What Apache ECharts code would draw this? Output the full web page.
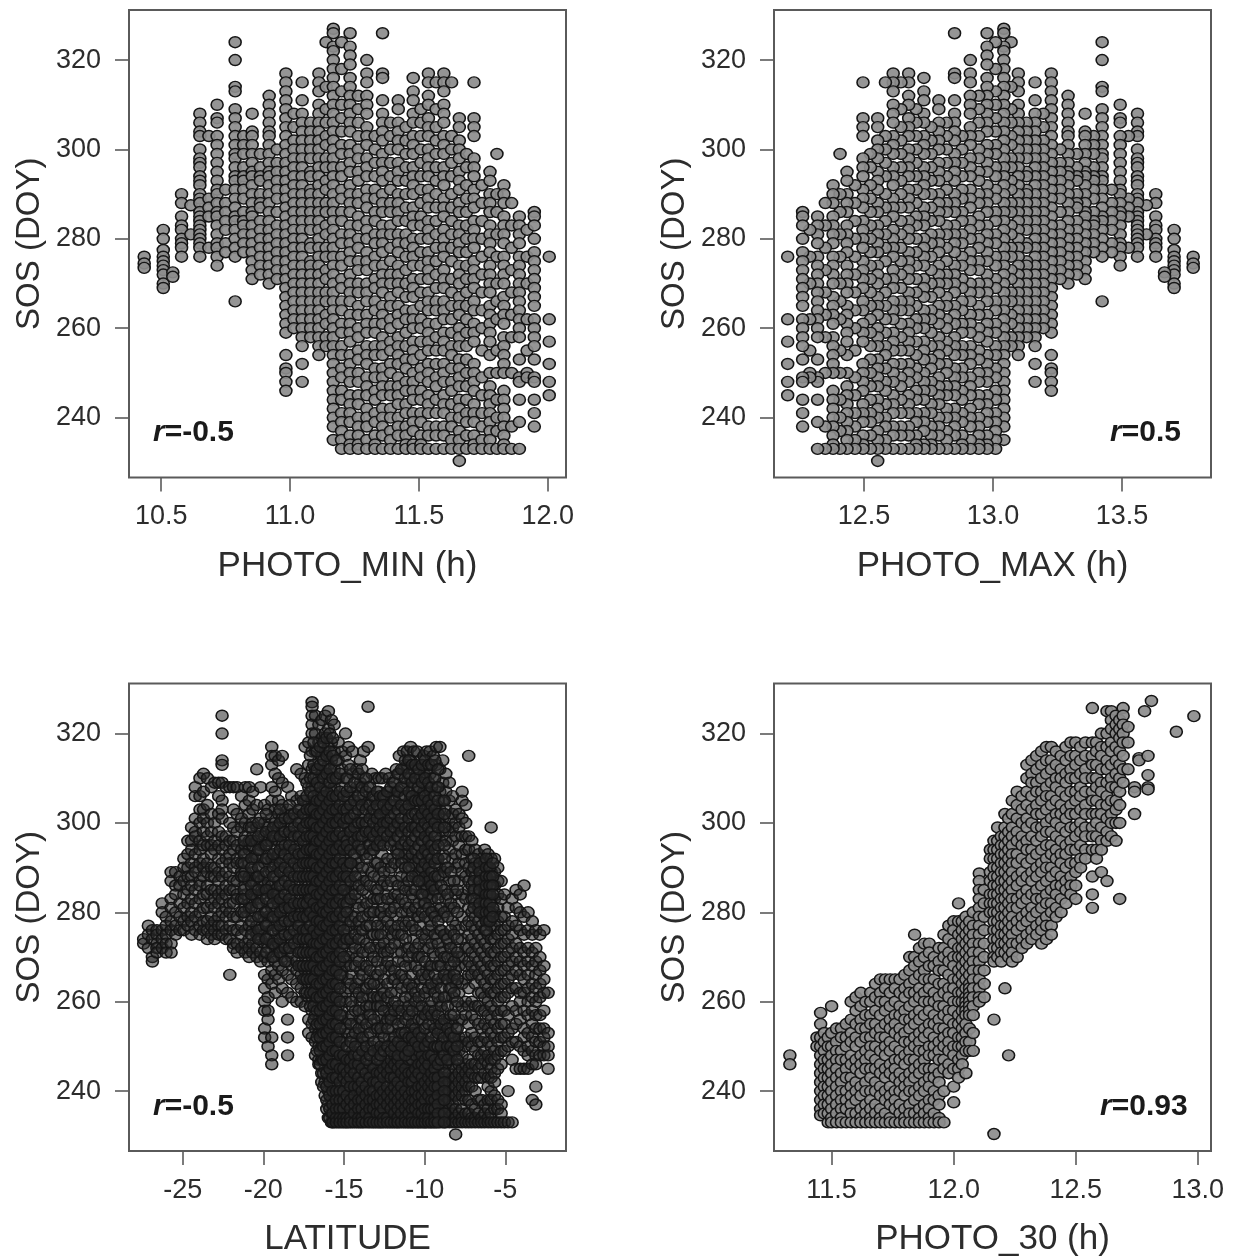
<!DOCTYPE html>
<html><head><meta charset="utf-8">
<style>html,body{margin:0;background:#fff}#c{width:1239px;height:1259px;filter:blur(0.45px)}</style>
<script src="https://cdn.jsdelivr.net/npm/echarts@6/dist/echarts.min.js"></script></head>
<body><div id="c"></div>
<script>
// each row: PHOTO_MIN, PHOTO_MAX, then the SOS values seen in that photoperiod column
const photoColumns=[
[10.434,13.776,276,274.5,273.5],
[10.508,13.702,282,280,277.5,276,275,274,273,272,270,269],
[10.545,13.665,272.5,271.5],
[10.579,13.631,290,288,285,283,282,280,279,278,276],
[10.615,13.595,287.5,281],
[10.65,13.56,308,306,304,303,300,298,297,296,294,293,292,290,289,288,286,285,284,283,282,281,280,279,278,276],
[10.685,13.525,303,289,287,285,278],
[10.717,13.493,310,307,306,303,301,299,297,295,293,291,290,288,286,285,283,281,279,278,276,274],
[10.75,13.46,291,288,286,284,282,279,277],
[10.787,13.423,324,320,314,313,309,307,305,303,301,299,298,296,294,293,291,289,287,285,284,282,280,278,276,266],
[10.82,13.39,303,301,299,296,294,293,291,289,286,284,283,281,279,277],
[10.853,13.357,308,304,303,301,299,297,295,294,292,290,288,286,285,283,281,279,277,275,273,271],
[10.885,13.325,299,296,294,293,290,288,287,284,282,280,278,276,274,272],
[10.919,13.291,312,310,308,306,304,303,301,299,297,295,294,292,290,288,286,284,282,280,278,276,274,272,270],
[10.95,13.26,300,297,295,293,291,289,286,283,281,279,277,275,273,271],
[10.984,13.226,317,315,313,311,309,307,305,303,301,299,297,295,293,291,289,287,285,283,281,279,277,275,273,271,269,267,265,263,261,259,254,251,250,248,246],
[11.015,13.195,308,305,302,300,298,296,294,292,290,288,286,284,282,280,278,276,274,272,270,268,266,264,262,260],
[11.047,13.163,315,311,308,306,304,302,300,298,296,294,292,290,288,286,284,282,280,278,276,274,272,270,268,266,264,262,260,258,256,252,248],
[11.08,13.13,306,304,302,300,298,295,294,291,290,288,286,284,282,279,278,275,274,272,270,268,266,264,262,260,258],
[11.112,13.098,317,315,313,310,308,306,304,302,300,298,296,294,292,290,288,286,284,282,280,278,276,274,272,270,268,266,264,262,260,258,256,254],
[11.14,13.07,324,314,309,306,303,301,298,296,293,291,288,286,283,281,278,276,273,271,268,266,263,261,258,256],
[11.168,13.042,327,326,323,322,320,318,316,314,312,310,308,306,304,302,300,298,296,294,292,290,288,286,284,282,280,278,276,274,272,270,268,266,264,262,260,258,256,254,252,250,248,246,244,242,240,238,235],
[11.2,13.01,324,318,313,310,307,304,301,299,296,294,291,289,286,284,281,279,276,274,271,269,266,264,261,259,256,254,251,249,246,244,241,239,237,235,233],
[11.233,12.977,326,323,321,319,316,314,312,310,308,306,304,301,299,297,295,292,290,288,286,283,281,279,277,275,272,270,268,266,263,261,259,257,254,252,250,248,245,243,241,239,236,234,233],
[11.265,12.945,312,309,306,303,300,298,295,293,290,288,285,283,280,278,275,273,270,268,265,263,260,258,255,253,250,248,245,243,240,238,236,234,233],
[11.298,12.912,320,317,315,312,310,308,305,303,301,298,296,294,291,289,287,284,282,280,277,275,273,270,268,266,263,261,259,256,254,252,249,247,245,242,240,238,235,233],
[11.33,12.88,303,300,297,294,291,289,286,284,281,279,276,274,271,269,266,264,261,259,256,254,251,249,246,244,241,239,236,234,233],
[11.359,12.851,326,317,316,311,308,306,304,302,299,297,295,293,290,288,286,283,281,279,277,274,272,270,268,265,263,261,258,256,254,251,249,247,245,242,240,238,236,233],
[11.39,12.82,306,303,300,297,294,291,288,286,283,281,278,275,272,270,267,265,262,260,257,255,252,250,247,245,242,240,237,235,233],
[11.42,12.79,311,309,306,304,302,300,297,295,293,290,288,286,284,281,279,277,274,272,270,268,265,263,261,258,256,254,252,249,247,245,243,240,238,236,233],
[11.45,12.76,305,302,299,296,293,290,287,284,281,279,276,273,270,267,264,262,259,256,253,251,248,246,243,241,238,236,234,233],
[11.478,12.732,316,313,311,308,306,303,301,299,296,294,292,290,287,285,283,280,278,276,274,271,269,267,264,262,260,257,255,253,250,248,246,244,241,239,237,234,233],
[11.508,12.702,309,306,303,300,297,294,291,288,285,283,280,277,274,271,268,265,262,260,257,254,251,249,246,244,241,239,236,234,233],
[11.537,12.673,317,315,312,310,307,305,303,300,298,296,294,291,289,287,284,282,280,277,275,273,271,268,266,264,261,259,257,255,252,250,248,245,243,241,238,236,233],
[11.567,12.643,315,309,305,302,299,296,293,290,287,284,281,278,275,272,269,266,264,261,258,255,252,249,247,244,241,238,236,233],
[11.597,12.613,317,315,313,310,308,306,303,301,299,296,294,292,289,287,285,282,280,278,276,273,271,269,266,264,262,259,257,255,252,250,248,245,243,241,238,236,233],
[11.627,12.583,315,303,300,297,294,290,287,284,281,278,275,271,268,265,262,259,256,254,251,248,246,243,240,238,235,233],
[11.657,12.553,307,305,302,300,298,295,293,291,288,286,283,281,279,277,274,272,270,267,265,263,260,258,256,253,251,249,247,244,242,240,237,235,233,230.3],
[11.685,12.525,299,296,292,289,286,283,280,277,274,271,268,265,262,259,256,253,250,247,244,241,239,236,233],
[11.714,12.496,315,307,305,303,298,296,294,291,289,287,284,282,280,278,275,273,271,269,266,264,261,259,257,252,250,248,246,243,241,239,236,234,233],
[11.745,12.465,292,288,284,280,276,272,268,264,260,255,249,245,241,238,235,233],
[11.776,12.434,295,293,290,288,286,283,281,279,277,274,272,270,268,265,263,261,259,257,254,250,247,245,243,241,239,237,235,233],
[11.803,12.407,299,290,286,281,276,270,266,262,255,250,244,240,237,233],
[11.83,12.38,292,290,288,285,283,281,279,276,274,272,270,267,265,263,261,258,256,254,252,250,246,244,242,240,238,236,234,233],
[11.86,12.35,288,283,278,273,268,263,258,250,238,233],
[11.89,12.32,285,283,281,279,276,274,272,270,268,266,264,262,260,258,253,249,248,244,239,233],
[11.92,12.29,282,276,270,262,255,250,249],
[11.948,12.262,286,285,283,280,277,275,273,271,269,267,265,262,260,258,256,253,249,248,244,241,238],
[12.006,12.204,276,262,257,252,248,245]
];
// each row: LATITUDE, then SOS values
const latitudeColumns=[
[-27.42,274,273],[-27.13,277,275,272],[-26.88,276,274,270,269],[-26.6,276,275,273,272,271],[-26.27,282,280,276,274,272],[-26.03,279,277,275,273,271],
[-25.72,289,287,283,281,278,276,273,271],[-25.44,289,286,284,280,277,275],[-25.18,288,286,282,279,276],[-24.93,292,290,287,284,281,278,276],
[-24.68,296,293,290,288,285,282,279,277],[-24.45,299,296,294,291,288,286,283,280,278,275],[-24.22,308,306,301,298,297,293,290,289,285,282,279,276],
[-23.93,310,306,303,300,296,294,291,287,286,283,280,277,275],[-23.71,311,307,303,301,298,295,292,290,288,284,281,278,276],
[-23.47,310,304,300,297,295,291,289,286,284,281,278,276,274],[-23.22,308,302,298,295,293,290,288,285,282,279,277,275],
[-23.02,309,300,296,294,290,288,285,283,281,278,276,274],[-22.77,309,306,302,298,295,292,289,287,284,282,279,277,275],
[-22.56,324,320,314,313,309,305,303,301,297,294,291,288,285,283,280,277,275],[-22.31,308,297,295,292,289,286,284,281,279,276,274],
[-22.08,308,300,296,293,291,288,285,282,280,277,274,266],[-21.85,308,303,299,296,294,290,287,285,282,279,276,273,272],
[-21.63,308,302,298,295,292,291,287,284,283,279,276,273,271],[-21.35,306,301,299,294,291,289,288,283,280,277,275,272],
[-21.12,308,304,300,297,295,293,289,286,284,281,279,276,273,271],[-20.88,308,305,302,299,296,294,291,288,287,282,281,277,274,272,270],
[-20.66,307,303,300,297,295,292,289,287,284,283,279,276,273,271],[-20.41,312,304,299,296,293,292,288,285,283,281,277,275,272,270],
[-20.17,308,301,298,295,294,290,287,284,282,279,276,274,271,269],[-19.92,304,300,297,295,291,288,286,285,280,278,275,273,270,266,263,260,258,254,252],
[-19.71,303,299,296,293,292,287,285,282,279,277,274,272,269,265,261,258,256,250],[-19.48,317,315,313,308,305,301,298,296,292,289,286,284,281,279,276,273,270,267,264,252,248,246],
[-19.27,315,311,307,303,300,297,294,291,288,285,283,280,277,274,272,269,266,262],[-19.06,314,310,305,302,299,296,293,290,287,284,282,279,276,273,271,268,265],
[-18.83,315,309,304,301,298,295,292,289,286,283,281,278,275,272,270,267,263,260],[-18.5,308,303,300,297,294,291,288,285,282,280,277,274,271,269,266,262,256,252,248],
[-18.24,306,302,299,296,293,290,287,284,281,279,276,273,270,268,265,261],[-17.93,312,305,301,298,295,292,289,286,283,280,278,275,272,269,267,264,260],
[-17.66,311,306,303,300,297,294,291,288,285,282,280,277,274,271,268,266,263,260],[-17.41,317,310,305,302,299,296,293,290,287,284,281,279,276,273,270,267,265,262,259],
[-17.19,318,313,308,304,301,298,295,292,289,286,283,280,278,275,272,269,266,264,261,256,253],
[-16.98,327,326,324,322,320,316,312,308,305,302,299,296,293,290,287,284,281,279,276,273,270,267,264,261,258,255,252],
[-16.77,324,320,316,312,308,304,301,298,295,292,289,286,283,280,277,275,272,269,266,263,260,257,254,251,248],
[-16.56,322,318,314,310,306,303,300,297,294,291,288,285,282,279,276,274,271,268,265,262,259,256,253,250,247,246],
[-16.38,323,319,315,311,307,304,301,298,295,292,289,286,283,280,277,274,271,268,265,262,259,256,253,250,247,244,242],
[-16.17,324,320,316,312,308,305,302,299,296,293,290,287,284,281,278,275,272,269,266,263,260,257,254,251,248,245,242,239],
[-15.97,325,321,317,313,309,306,303,300,297,294,291,288,285,282,279,276,273,270,267,264,261,258,255,252,249,246,243,240,237,234],
[-15.78,323,318,314,311,307,304,301,298,295,292,289,286,283,280,277,274,271,268,265,262,259,256,253,250,247,244,241,238,235,233],
[-15.61,322,316,312,308,305,302,299,296,293,290,287,284,281,278,275,272,269,266,263,260,257,254,251,248,245,242,239,236,234,233],
[-15.36,318,314,310,306,301,300,295,294,289,288,283,282,277,275,271,268,265,264,259,256,253,250,249,246,243,240,237,235,233],
[-15.13,316,312,308,303,302,297,296,291,290,285,284,279,278,273,272,267,266,261,258,257,252,251,247,245,242,239,236,234,233],
[-14.91,320,315,310,304,300,299,293,292,287,286,281,280,275,274,269,268,262,260,255,254,248,246,244,241,238,235,233],
[-14.72,317,313,306,305,299,298,294,291,288,284,283,277,276,270,265,263,256,253,250,247,243,240,237,235,233],
[-14.48,316,311,307,302,297,295,289,285,279,273,271,266,259,257,252,249,245,242,239,237,234,233],
[-14.22,312,308,304,300,298,292,290,286,282,277,270,264,261,255,251,248,246,243,240,238,235,233],
[-13.99,314,309,305,301,296,294,288,283,276,272,267,260,256,253,250,247,244,241,239,236,234,233],
[-13.78,316,310,306,302,299,293,287,281,274,268,263,258,254,251,246,243,240,238,235,233],
[-13.51,326,317,308,304,297,295,290,284,279,271,265,261,257,252,249,245,242,239,237,234,233],
[-13.27,311,306,302,298,294,289,282,275,269,262,255,250,248,244,241,238,236,234,233],
[-13.06,310,305,301,299,296,291,285,278,272,266,259,254,247,245,242,240,237,235,233],
[-12.84,310,307,303,300,295,288,280,273,264,257,251,249,243,241,239,236,234,233],
[-12.65,310,305,302,297,293,286,277,270,263,256,253,246,244,240,238,235,233],
[-12.42,311,306,303,299,291,284,276,268,260,255,250,247,242,239,237,234,233],
[-12.2,310,307,304,301,296,289,281,274,267,258,252,248,245,243,240,238,235,233],
[-11.98,309,306,300,298,292,283,275,265,259,254,251,246,244,241,239,236,234,233],
[-11.76,312,307,304,297,294,287,279,271,262,256,249,247,245,242,240,237,235,233],
[-11.57,315,311,306,302,299,290,282,273,266,257,253,250,246,243,241,238,236,234,233],
[-11.31,316,312,308,304,300,295,286,278,269,260,255,252,248,244,242,239,237,235,233],
[-11.08,316,313,309,303,298,293,288,280,272,263,258,251,249,245,243,240,238,236,234,233],
[-10.87,317,314,310,306,301,296,285,276,268,261,254,250,247,246,243,241,238,236,234,233],
[-10.68,316,312,308,305,299,291,283,274,264,256,253,248,245,242,239,237,235,233],
[-10.46,316,311,307,304,300,294,287,279,270,259,252,249,246,243,241,238,236,234,233],
[-10.27,314,310,306,303,298,292,289,284,277,265,258,251,247,245,242,240,237,235,233],
[-10.05,315,311,307,304,301,296,290,286,282,272,261,254,250,248,245,243,240,238,236,234,233],
[-9.88,316,312,308,305,302,297,293,288,285,275,267,257,251,249,246,244,241,239,237,235,233],
[-9.66,316,311,307,303,300,295,291,287,283,278,268,259,253,247,244,242,240,238,236,234,233],
[-9.47,315,310,306,302,299,294,289,285,280,271,263,255,250,248,245,243,241,239,237,235,233],
[-9.28,317,313,308,304,301,297,292,286,281,274,264,256,252,247,244,242,240,238,236,234,233],
[-9.06,317,312,307,303,300,296,290,284,276,269,260,254,249,246,243,241,239,237,235,233],
[-8.88,314,309,305,301,298,293,288,279,272,265,258,253,251,248,245,243,240,238,236,234,233],
[-8.69,311,307,303,299,296,290,283,275,267,261,255,250,246,243,241,239,237,235,233],
[-8.47,309,305,301,298,294,287,281,273,266,263,256,252,249,247,244,242,240,238,236,234,233],
[-8.27,306,302,299,296,292,285,278,270,265,261,255,252,249,246,243,241,239,237,235,233],
[-8.08,303,300,297,293,290,284,277,272,267,264,259,254,251,248,245,243,241,239,236,234,233,230.3],
[-7.88,302,299,295,291,287,282,276,270,268,262,256,252,249,246,244,242,240,238,235,233],
[-7.68,307,305,301,297,293,289,284,279,274,270,264,259,256,251,248,245,243,241,239,236,234,233],
[-7.46,304,300,297,294,291,288,283,277,272,268,265,260,257,252,250,246,244,242,240,238,235,233],
[-7.27,315,297,294,290,287,285,281,278,275,272,269,266,263,259,255,251,247,245,243,241,238,235,233],
[-7.08,296,292,289,286,283,280,277,274,271,268,266,260,257,253,250,246,244,241,237,234,233],
[-6.87,294,291,288,285,282,279,276,273,270,267,264,259,256,252,249,246,243,240,236,234,233],
[-6.66,293,290,287,284,281,278,275,272,269,266,262,259,255,251,248,245,243,238,235,233],
[-6.47,292,289,286,283,280,277,274,271,268,265,262,258,254,251,248,246,243,238,234,233],
[-6.28,294,291,288,285,282,279,276,273,270,267,264,261,258,255,252,249,247,244,237,235,233],
[-6.07,293,290,287,284,281,278,275,272,269,266,263,260,257,254,251,248,246,243,241,238,236,234,233],
[-5.88,299,292,289,286,283,280,277,274,271,268,265,262,259,256,253,250,247,245,243,240,238,235,233],
[-5.67,292,289,286,283,280,277,274,271,268,265,262,258,255,252,249,247,244,242,239,236,233],
[-5.47,290,287,284,281,278,275,272,269,266,263,260,257,254,251,248,245,238,236,233],
[-5.26,287,283,279,276,273,270,267,264,261,258,255,252,249,246,237,235,233],
[-5.06,284,279,276,273,270,267,264,261,258,255,252,249,233],
[-4.83,281,277,274,271,268,265,262,257,253,250,240,233],
[-4.58,283,278,275,272,269,266,263,259,254,251,247,233],
[-4.33,285,281,277,273,270,267,263,258,255,251,245],
[-4.08,284,280,276,272,269,266,262,260,256,250,245],
[-3.84,286,279,275,271,268,265,262,258,254,252,249,245],
[-3.59,280,276,272,269,266,263,260,257,253,250,248,245],
[-3.33,278,275,271,268,264,261,258,255,252,249,246,238],
[-3.11,276,272,269,266,263,260,257,254,251,248,246,241,237],
[-2.86,275,270,267,264,261,257,254,251,248],
[-2.61,276,268,265,262,258,254,252,250,248],
[-2.35,262,253,250,248,245],
// darkest parts of the cloud, where the points pile up
[-21.2,296,293,291,288,285,283,280],[-20.74,299,296,292,290,286,284,281,278,275],[-20.3,300,297,294,290,288,285,282,279,276,274],
[-19.82,302,298,295,292,289,285,283,280,277,274,271],[-19.38,299,297,293,290,288,284,282,279,276,273,270],[-18.95,303,300,297,294,291,289,286,283,280,277,274,271],
[-18.66,301,298,295,293,290,287,284,281,278,275,272,269],[-18.38,304,301,298,295,292,289,286,283,281,278,275,272],[-18.08,302,299,297,294,291,288,285,282,279,276,273],
[-17.8,303,300,297,293,290,288,285,282,279,277,274,271,268],[-17.52,305,302,299,296,293,291,288,285,282,279,276,274,271,268,265],[-17.3,309,306,303,300,297,294,291,288,285,282,279,276,274,271,268,265,262],
[-17.08,315,310,307,303,300,297,294,291,288,285,283,280,277,274,271,268,265,262,259],[-16.87,318,313,310,306,303,300,297,294,291,288,285,282,279,276,273,271,268,265,262,259,256],
[-16.67,316,312,309,305,302,299,296,293,290,287,284,281,278,275,273,270,267,264,261,258,255,252,249],[-16.47,317,313,308,305,302,299,296,293,290,287,284,281,278,276,273,270,267,264,261,258,255,252,249,246],
[-16.27,318,314,310,306,303,300,297,294,291,288,285,282,280,277,274,271,268,265,262,259,256,253,250,247,244,241],[-16.07,319,315,311,307,304,301,298,295,292,289,286,283,280,277,274,271,268,265,262,259,256,253,250,247,244,241,238,236],
[-15.88,320,316,312,309,305,302,299,296,293,290,287,284,281,278,275,272,269,266,263,260,257,254,251,248,245,242,239,236,234],[-15.7,319,315,310,306,303,300,297,294,291,288,285,282,279,276,273,270,267,264,261,258,255,252,249,246,243,240,237,235,233],
[-15.48,314,310,306,303,300,297,294,291,288,285,282,279,276,273,270,267,264,261,258,255,252,249,246,243,240,238,236,234,233],[-15.25,311,307,304,301,298,295,292,289,286,283,280,277,274,271,269,266,263,260,257,254,251,248,245,242,240,238,236,234,233],
[-15.02,306,303,300,297,294,291,288,285,282,279,276,273,270,248,245,243,240,238,236,234,233],[-14.82,310,307,303,301,296,295,290,288,282,280,274,250,247,244,242,239,237,234,233],
[-14.6,312,308,304,301,298,294,291,247,245,243,241,238,236,234,233],[-14.35,309,305,302,299,296,293,248,246,244,241,239,237,235,233],
[-14.1,311,306,303,300,297,295,291,246,243,241,238,236,234,233],[-13.88,312,308,304,300,297,294,245,242,240,238,236,234,233],[-13.64,310,307,303,300,298,244,241,239,237,235,233],
[-13.4,308,304,301,298,295,293,246,243,240,238,236,234,233],[-13.17,306,303,300,297,294,245,242,240,238,236,233],[-12.95,307,304,301,298,295,244,242,239,237,235,233],
[-12.75,306,302,299,296,247,244,241,239,237,235,233],[-12.55,306,304,300,298,295,245,243,240,238,236,234,233],[-12.31,307,303,300,297,246,244,241,239,237,234,233],
[-12.09,308,304,301,298,295,247,245,243,240,238,236,233],[-11.87,309,305,302,299,296,248,246,243,241,239,237,235,233],[-11.66,311,307,303,300,297,294,247,245,242,240,238,236,234,233],
[-11.44,312,308,304,301,298,295,292,249,246,244,241,239,237,235,233],[-11.2,314,310,306,303,299,296,293,250,248,245,243,240,238,236,234,233],[-10.98,314,311,307,304,301,298,295,292,249,247,244,242,239,237,235,233],
[-10.77,313,309,306,302,299,296,293,290,250,247,244,242,240,238,236,234,233],[-10.57,313,310,305,302,299,297,294,291,288,248,245,243,240,238,236,233],[-10.37,312,308,305,301,298,295,292,289,249,246,244,241,239,237,235,233],
[-10.16,313,309,305,302,299,296,293,290,287,248,246,243,241,239,237,235,233],[-9.97,314,310,306,303,300,297,294,291,288,285,247,245,242,240,238,236,234,233],[-9.76,313,309,305,302,299,296,293,290,287,284,246,243,241,239,236,234,233],
[-9.57,313,308,304,301,298,295,292,289,286,283,244,242,240,238,236,233],[-9.37,314,310,306,303,300,297,294,291,288,245,243,241,238,236,234,233],[-9.17,312,308,305,302,299,295,292,243,241,239,237,235,233],
[-8.78,305,302,299,295,292,244,242,240,238,235,233],[-6.95,292,290,287,285,283,281],[-6.58,291,289,287,285,282,280],[-6.18,292,290,288,286,284,282,280,278,276],[-5.97,290,288,286,284,282,280,278],[-5.78,291,288,286,284,281,279],
// the speckled middle of the cloud
[-14.58,291,287,283,278,274,268,264,260,255,251],[-14.3,288,284,279,275,272,268,263,258,253,250],[-14.08,286,281,278,274,269,265,262,258,254,248],[-13.85,290,285,279,276,271,266,261,256,252,249],
[-13.6,292,287,282,277,273,268,263,259,255,250,247],[-13.38,286,280,277,272,267,264,259,257,253,248],[-13.15,288,283,280,275,270,264,261,256,251,249],[-12.92,291,285,283,277,275,269,266,261,259,254,247],
[-12.72,290,283,280,275,272,267,261,259,254,250,248],[-12.52,289,287,281,279,273,271,265,262,258,252,249],[-12.3,292,286,283,278,271,269,264,261,256,254,250],[-12.08,290,287,280,277,272,268,262,257,256,249],
[-11.86,291,284,281,276,273,267,265,260,258,252,250],[-11.64,293,286,284,277,275,269,264,259,255,251,248],[-11.42,291,288,283,280,275,271,266,263,258,253,250],[-11.19,290,285,282,277,274,268,265,261,256,253,248],
[-10.98,290,287,281,278,272,270,264,259,257,252,249],[-10.77,288,284,280,277,271,266,263,258,255,252],[-10.57,285,281,276,272,268,262,260,254,251],[-10.37,287,282,279,273,270,267,261,256,253,250],
[-10.16,284,280,275,270,266,263,259,256,252],[-9.97,282,279,274,269,265,262,257,254,250],[-9.76,281,276,272,266,263,258,255,251,248],[-9.57,280,277,273,268,264,260,257,252,248],
[-9.37,285,279,275,270,266,262,258,254,250,247],[-9.17,288,283,278,273,268,265,261,257,253,250,246],[-8.98,286,281,276,271,268,263,259,255,250,247],[-8.78,289,285,280,275,270,266,261,256,252,248],
[-8.58,290,284,279,274,270,265,259,254,250,247],[-8.38,289,282,276,272,268,263,257,253,250],[-8.18,287,281,275,269,266,262,257,252,249],[-7.98,285,280,274,271,265,260,254,250,247]
];
// each row: PHOTO_30, then SOS values
const photo30Columns=[
[11.329,248,246],[11.44,252,250],[11.455,257.5,255,252,250,248,246,244,242,240,238,236,234.6],
[11.47,253,251,249,247,245,243,241,239,237,235],[11.486,252,250,247,245,243,241,239,237,235,233],
[11.5,259,253,250,248,246,244,242,240,238,236,234,233],[11.52,254,251,249,247,245,243,241,239,237,235,233],
[11.54,254,252,249,247,244,242,240,238,236,234,233],[11.56,255,252,250,247,245,243,240,238,236,233],
[11.58,260,256,253,251,248,246,243,241,239,237,235,233],[11.6,261,258,255,252,250,247,245,242,240,238,235,233],
[11.62,262,259,256,254,251,248,246,244,241,239,236,234,233],[11.64,260,257,254,252,249,247,245,242,240,237,235,233],
[11.66,262,260,257,255,252,250,248,245,243,240,238,236,234,233],[11.68,264,261,258,255,253,250,247,245,242,240,237,235,233],
[11.7,265,262,260,257,254,252,249,246,244,241,239,236,234,233],[11.72,265,263,260,258,255,252,250,248,245,243,240,238,235,233],
[11.74,265,262,259,256,254,251,249,246,244,241,239,237,234,233],[11.76,265,263,260,257,255,253,250,247,245,243,240,238,236,233],
[11.78,265,262,259,257,254,252,249,247,244,242,240,237,235,233],[11.8,266,263,261,258,256,253,251,248,246,243,241,239,236,234,233],
[11.82,270,267,264,262,259,256,254,251,249,247,244,242,240,237,235,233],[11.84,275,270,268,265,262,260,257,255,252,250,247,245,243,240,238,235,233],
[11.86,272,269,266,263,261,258,256,253,251,249,246,244,241,239,236,234,233],[11.88,273,270,267,265,262,260,257,254,252,249,247,245,242,240,237,235,233],
[11.9,273,271,268,265,263,260,258,255,253,250,248,245,243,241,238,236,234,233],[11.92,270,268,265,262,260,257,255,252,250,248,245,243,240,238,235,233],
[11.94,272,269,267,264,261,259,256,254,251,249,247,244,242,239,237,234,233],[11.96,275,272,270,267,264,262,259,257,254,252,250,247,245,240,233],
[11.98,277,274,271,269,266,263,261,258,256,253,251,249,246,244],[12,278,276,273,270,268,265,263,260,258,255,253,250,248,245,241,237.5],
[12.02,282,278,275,272,270,267,265,262,260,257,255,252,250,247,245,243],[12.035,278,276,274,272,270,268,266,264,262,260,258,256,254,252,250,248,246],
[12.05,279,277,275,273,271,269,267,265,263,261,260,259,258,257,255,253,251,249,244],[12.065,278,276,274,272,270,268,266,264,263,262,261,260,259,258,257,254,251,249],
[12.08,280,277,275,273,271,269,267,265,263,261,259,257,253,249],[12.105,288.7,287,285,283,281,279,277,275,273,271,269,267,265,263,261,260],
[12.125,285,282,279,276,273,270,267,264,261],[12.15,294,292,289,287,284,282,280],
[12.165,296,294,292,290,288,286,284,282,280,278,276,274,272,270,269,256,230.4],[12.18,299,296,294,292,290,288,286,284,282,280,278,276,274,272,270],
[12.195,297,295,293,291,289,287,285,283,281,279,277,275,273,271,269],[12.21,302,299,297,295,293,291,289,287,285,283,281,279,277,275,273,271,263],
[12.225,301,298,296,294,292,290,288,286,284,282,280,278,276,274,272,270,248],[12.24,305,302,299,297,295,293,291,289,287,285,283,281,279,277,275,273,271,269],
[12.26,307,304,301,298,296,293,291,288,286,283,281,278,276,273,270],[12.28,306,303,300,297,295,292,289,287,284,282,279,277,274,272],
[12.3,313,310,307,304,301,299,296,294,291,288,285,283,280,278,275,273],[12.32,314,311,309,306,303,300,297,294,292,289,287,284,281,279,276,274],
[12.34,315,312,309,307,304,302,299,296,293,290,288,285,283,280,277,275],[12.36,316,313,310,307,305,302,299,297,294,291,289,286,283,281,278,276,273],
[12.38,317,314,311,308,306,303,300,298,295,292,290,287,284,282,279,277,274],[12.4,317,314,312,309,306,304,301,298,295,293,290,288,285,282,280,277,275],
[12.42,316,313,310,308,305,302,300,297,294,292,289,286,284,281,279],[12.44,315,312,310,307,304,302,299,296,293,291,288,286,283,280],
[12.46,317,314,311,309,306,303,301,298,295,293,290,287,285,282],[12.48,318,315,312,310,307,304,302,299,296,294,291,288,286,284],
[12.5,318,315,313,310,307,305,302,299,297,294,291,289,286,283],[12.52,317,314,311,308,306,303,300,298,295,292,290],
[12.54,318,315,312,310,307,304,302,299,297,294,292],[12.568,325.7,318,315,313,310,307,305,302,299,297,294,288,284,281],
[12.585,318,316,313,310,308,305,302,300,297,294,292],[12.605,320,317,315,312,309,307,304,302,299,296,294,289],
[12.628,325,320,317,314,312,309,306,304,301,298,296,287],[12.646,325,323,321,318,316,313,310,308,305,302,300,297],
[12.665,324,322,320,317,314,311,308,305,303,300,296],[12.68,323,321,319,316,313,310,307,304,300,283],
[12.694,325.7,324,322,320,318,315,312,309],[12.714,321.5,318,312],[12.741,308,307,302],[12.759,314.5,314],[12.782,325],[12.796,315,310.7,308,307.5],
[12.81,327.3],[12.912,320.4],[12.984,323.9]
];
const xTicks1=[10.5,11,11.5,12], xTicks2=[12.5,13,13.5], xTicks3=[-25,-20,-15,-10,-5], xTicks4=[11.5,12,12.5,13];
const yTicks=[240,260,280,300,320];
const xNames=['PHOTO_MIN (h)','PHOTO_MAX (h)','LATITUDE','PHOTO_30 (h)'];
const yName='SOS (DOY)';
const rLabels=['=-0.5','=0.5','=-0.5','=0.93'];

const toPairs=(rows,xi,skip)=>rows.flatMap(r=>r.slice(skip).map(y=>[r[xi],y]));
const seriesData=[toPairs(photoColumns,0,2),toPairs(photoColumns,1,2),toPairs(latitudeColumns,0,1),toPairs(photo30Columns,0,1)];

const FONT='"Liberation Sans",Arial,sans-serif', INK='#2c2c2c', BOX='#5a5a5a';
const grids=[{left:129,top:10},{left:774,top:10},{left:129,top:683.5},{left:774,top:683.5}]
  .map(g=>({...g,width:437,height:467.5,show:true,borderColor:BOX,borderWidth:2,backgroundColor:'#fff'}));
const xRanges=[[10.375,12.071],[12.151,13.845],[-28.33,-1.24],[11.264,13.054]];
const xTicks=[xTicks1,xTicks2,xTicks3,xTicks4];
const fmt=[v=>v.toFixed(1),v=>v.toFixed(1),v=>String(v),v=>v.toFixed(1)];
const rPos=[{left:153,top:418},{left:1110,top:418},{left:153,top:1092},{left:1100,top:1092}];
const fills=['rgba(140,140,140,0.92)','rgba(140,140,140,0.92)','rgba(40,40,40,0.55)','rgba(140,140,140,0.92)'];

const option={
  animation:false,
  grid:grids,
  title:rLabels.map((t,i)=>({...rPos[i],padding:0,text:'{i|r}{b|'+t+'}',
    textStyle:{rich:{i:{fontFamily:FONT,fontStyle:'italic',fontWeight:'bold',fontSize:30,color:'#1a1a1a'},
                     b:{fontFamily:FONT,fontWeight:'bold',fontSize:30,color:'#1a1a1a'}}}})),
  xAxis:grids.map((g,i)=>({type:'value',gridIndex:i,min:xRanges[i][0],max:xRanges[i][1],splitLine:{show:false},
    name:xNames[i],nameLocation:'middle',nameGap:71,nameTextStyle:{fontFamily:FONT,fontSize:35,color:INK},
    axisLine:{show:false},
    axisTick:{show:true,length:14,inside:false,customValues:xTicks[i],lineStyle:{color:BOX,width:1.6}},
    axisLabel:{show:true,fontFamily:FONT,fontSize:27,color:INK,margin:26,customValues:xTicks[i],formatter:fmt[i],hideOverlap:false,showMinLabel:true,showMaxLabel:true}})),
  yAxis:grids.map((g,i)=>({type:'value',gridIndex:i,min:226.6,max:331.2,splitLine:{show:false},
    name:yName,nameLocation:'middle',nameGap:83,nameTextStyle:{fontFamily:FONT,fontSize:33,color:INK},
    axisLine:{show:false},
    axisTick:{show:true,length:14,customValues:yTicks,lineStyle:{color:BOX,width:1.6}},
    axisLabel:{show:true,fontFamily:FONT,fontSize:27,color:INK,margin:28,customValues:yTicks}})),
  series:seriesData.map((d,i)=>({type:'scatter',xAxisIndex:i,yAxisIndex:i,data:d,symbol:'circle',symbolSize:[12,11],
    large:false,progressive:0,silent:true,clip:true,
    itemStyle:{color:fills[i],borderColor:'#151515',borderWidth:1.5,opacity:1}}))
};
echarts.init(document.getElementById('c'),null,{renderer:'canvas',width:1239,height:1259}).setOption(option);
</script></body></html>
